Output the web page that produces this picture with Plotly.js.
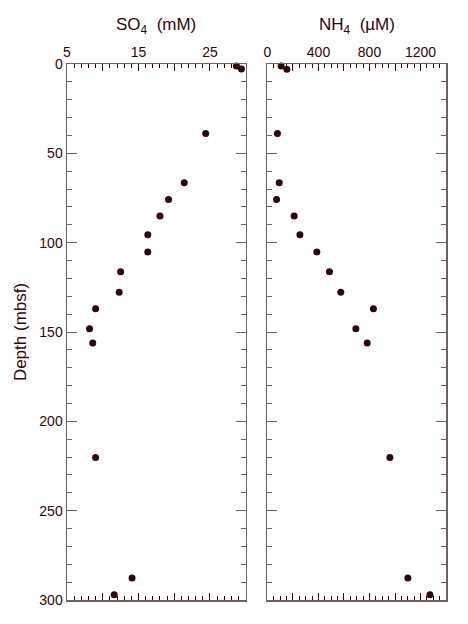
<!DOCTYPE html>
<html>
<head>
<meta charset="utf-8">
<script src="https://cdn.plot.ly/plotly-3.0.1.min.js"></script>
<style>html,body{margin:0;padding:0;background:#fff;}</style>
</head>
<body>
<div id="chart" style="width:468px;height:624px;"></div>
<script>
// SO4 profile (mM) vs depth (mbsf)
const so4Depth = [1.1, 2.8, 38.9, 66.4, 75.9, 85.1, 95.5, 105.2, 116.3, 127.7, 137.0, 148.2, 156.1, 220.2, 287.7, 297.1];
const so4Value = [28.7, 29.4, 24.4, 21.4, 19.2, 18.0, 16.3, 16.3, 12.5, 12.3, 9.0, 8.15, 8.6, 9.0, 14.1, 11.6];
// NH4 profile (µM) vs depth (mbsf)
const nh4Depth = [1.1, 3.0, 38.9, 66.4, 75.9, 85.1, 95.5, 105.2, 116.3, 127.7, 137.0, 148.2, 156.1, 220.2, 287.7, 297.1];
const nh4Value = [107, 152, 78, 92, 71, 209, 254, 387, 486, 575, 831, 693, 782, 960, 1101, 1274];
// tick labels
const so4TickVals = [5, 10, 15, 20, 25, 30];
const so4TickText = ['5', ' ', '15', ' ', '25', ' '];
const nh4TickVals = [0, 200, 400, 600, 800, 1000, 1200, 1400];
const nh4TickText = ['0', ' ', '400', ' ', '800', ' ', '1200', ' '];
const depthTickVals = [0, 50, 100, 150, 200, 250, 300];

const ink = '#2e0808';
const lineCol = '#6e6262';
const font = {family: 'Liberation Sans, Arial, sans-serif', size: 14, color: ink};

const marker = {color: ink, size: 7};
const traces = [
  {x: so4Value, y: so4Depth, xaxis: 'x', yaxis: 'y', mode: 'markers', type: 'scatter', marker: marker, cliponaxis: false},
  {x: nh4Value, y: nh4Depth, xaxis: 'x2', yaxis: 'y2', mode: 'markers', type: 'scatter', marker: marker, cliponaxis: false}
];

function xAxis(domain, range, vals, text, minorDtick) {
  return {
    domain: domain, range: range, side: 'top', tickmode: 'array', tickvals: vals, ticktext: text,
    ticks: 'inside', ticklen: 7, tickwidth: 1, tickcolor: ink, showline: true, linecolor: lineCol, linewidth: 1.5,
    mirror: 'allticks', showgrid: false, zeroline: false, tickfont: font,
    minor: {dtick: minorDtick, ticks: 'inside', ticklen: 4, tickcolor: ink, showgrid: false}
  };
}
function yAxis(anchor, labels, title) {
  const a = {
    anchor: anchor, range: [300, 0], tickmode: 'array', tickvals: depthTickVals,
    ticks: 'inside', ticklen: 10, tickwidth: 1, tickcolor: lineCol, showline: true, linecolor: lineCol, linewidth: 1.5,
    mirror: 'allticks', showgrid: false, zeroline: false, tickfont: font, showticklabels: labels,
    minor: {dtick: 10, ticks: 'inside', ticklen: 5, tickcolor: lineCol, showgrid: false}
  };
  if (title) a.title = {text: title, font: {family: font.family, size: 17, color: ink}, standoff: 8};
  return a;
}

const layout = {
  width: 468, height: 624,
  margin: {l: 67, r: 22, t: 64, b: 24},
  paper_bgcolor: '#fff', plot_bgcolor: '#fff',
  showlegend: false,
  font: font,
  xaxis: xAxis([0, 0.4716], [5, 30], so4TickVals, so4TickText, 1),
  xaxis2: xAxis([0.529, 1], [0, 1400], nh4TickVals, nh4TickText, 50),
  yaxis: yAxis('x', true, 'Depth (mbsf)'),
  yaxis2: yAxis('x2', false, null),
  annotations: [
    {text: 'SO<sub>4</sub>  (mM)', xref: 'paper', yref: 'paper', x: 0.2358, y: 1, yshift: 38, showarrow: false,
     xanchor: 'center', yanchor: 'middle', font: {family: font.family, size: 17, color: ink}},
    {text: 'NH<sub>4</sub>  (µM)', xref: 'paper', yref: 'paper', x: 0.7645, y: 1, yshift: 38, showarrow: false,
     xanchor: 'center', yanchor: 'middle', font: {family: font.family, size: 17, color: ink}}
  ]
};

Plotly.newPlot('chart', traces, layout, {staticPlot: true, displayModeBar: false});
</script>
</body>
</html>
